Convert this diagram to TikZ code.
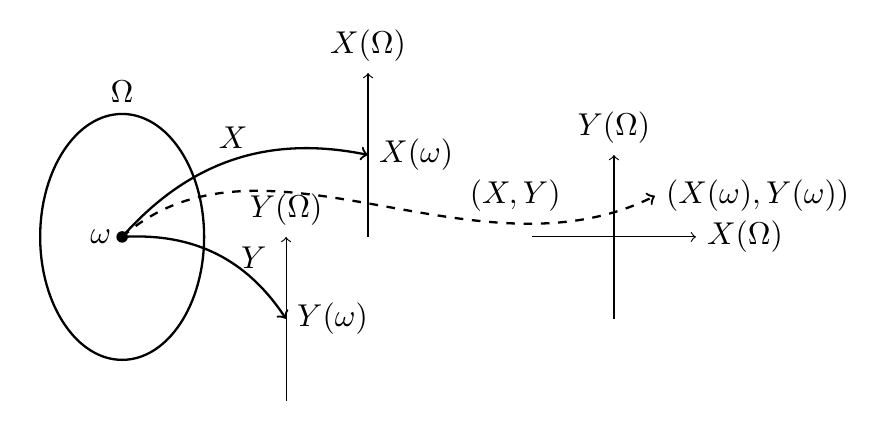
\documentclass[11pt,tikz,border=0pt]{standalone}
\begin{document}
\begin{tikzpicture}[x=1cm,y=1cm,
  mapcurve/.style={thick,->},
  axisline/.style={->}]
\useasboundingbox (-1.49,-2.24) rectangle (9.16,2.89);
% ellipse Omega
\draw[thick] (0,0) ellipse (1 and 1.5);
\coordinate (omtop) at (0,1.5);
\node[above] (Om) at (omtop) {$\Omega$};
% omega point
\coordinate (w) at (0,0);
\fill (w) circle (2pt);
\node[left] (wl) at (w) {$\omega$};
% X axis
\coordinate (xa0) at (3,0);
\coordinate (xa1) at (3,2);
\draw[axisline] (xa0) -- (xa1);
\node[above] (xOm) at (xa1) {$X(\Omega)$};
\coordinate (xw) at (3,1);
\node[right] (xwl) at (xw) {$X(\omega)$};
% Y axis
\coordinate (ya0) at (2,-2);
\coordinate (ya1) at (2,0);
\draw[axisline] (ya0) -- (ya1);
\node[above] (yOm) at (ya1) {$Y(\Omega)$};
\coordinate (yw) at (2,-1);
\node[right] (ywl) at (yw) {$Y(\omega)$};
% product axes
\coordinate (h0) at (5,0);
\coordinate (h1) at (7,0);
\coordinate (v0) at (6,-1);
\coordinate (v1) at (6,1);
\draw[axisline] (h0) -- (h1);
\draw[axisline] (v0) -- (v1);
\node[right] (hl) at (h1) {$X(\Omega)$};
\node[above] (vl) at (v1) {$Y(\Omega)$};
\coordinate (xy) at (6.5,0.5);
\node[right] (xyl) at (xy) {$(X(\omega),Y(\omega))$};
% maps
\draw[mapcurve] (w) to[bend left=30] node[midway,above] {$X$} (xw);
\draw[mapcurve] (w) to[bend left=30] node[pos=0.75,above] {$Y$} (yw);
\draw[thick,dashed,->] (w) .. controls (1.7,1.5) and (4.3,-0.6) .. node[pos=0.75,above] {$(X,Y)$} (xy);
\end{tikzpicture}
\end{document}
